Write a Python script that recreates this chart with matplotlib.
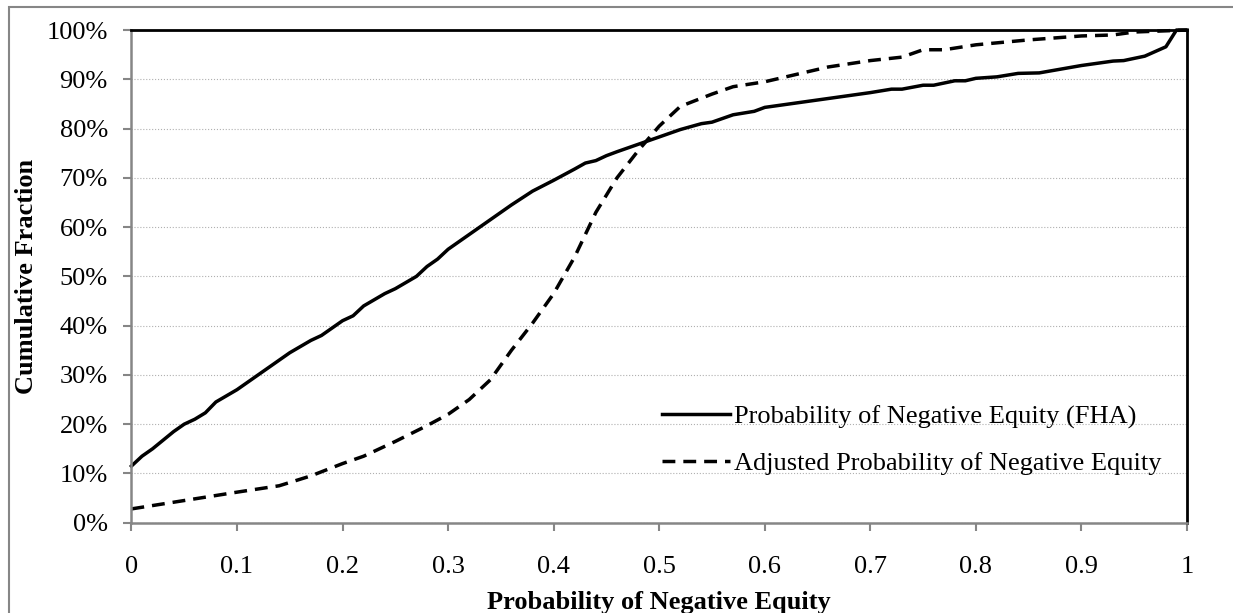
import matplotlib
matplotlib.use('Agg')
import matplotlib.pyplot as plt
from matplotlib.ticker import PercentFormatter
from matplotlib.patches import Rectangle

plt.rcParams['font.family'] = ['Liberation Serif', 'DejaVu Serif']

# cumulative fraction vs probability of negative equity
fha_x = [0, 0.01, 0.02, 0.04, 0.05, 0.06, 0.07, 0.08, 0.10, 0.12, 0.15, 0.17,
         0.18, 0.20, 0.21, 0.22, 0.24, 0.25, 0.27, 0.28, 0.29, 0.30, 0.32, 0.34,
         0.36, 0.38, 0.40, 0.42, 0.43, 0.44, 0.45, 0.46, 0.48, 0.50, 0.52, 0.54,
         0.55, 0.57, 0.59, 0.60, 0.65, 0.70, 0.72, 0.73, 0.75, 0.76, 0.78, 0.79,
         0.80, 0.82, 0.84, 0.86, 0.90, 0.93, 0.94, 0.96, 0.98, 0.99, 1.0]
fha_y = [0.115, 0.135, 0.150, 0.185, 0.200, 0.210, 0.223, 0.245, 0.270, 0.300,
         0.345, 0.370, 0.380, 0.410, 0.420, 0.440, 0.465, 0.475, 0.500, 0.520,
         0.535, 0.555, 0.585, 0.615, 0.645, 0.673, 0.695, 0.718, 0.730, 0.735,
         0.745, 0.753, 0.768, 0.783, 0.798, 0.810, 0.813, 0.828, 0.835, 0.843,
         0.858, 0.873, 0.880, 0.880, 0.888, 0.888, 0.897, 0.897, 0.902, 0.905,
         0.912, 0.913, 0.928, 0.937, 0.938, 0.947, 0.966, 1.0, 1.0]

adj_x = [0, 0.05, 0.10, 0.14, 0.17, 0.20, 0.22, 0.25, 0.28, 0.30, 0.32, 0.34,
         0.36, 0.38, 0.40, 0.42, 0.44, 0.46, 0.48, 0.50, 0.52, 0.55, 0.57, 0.60,
         0.63, 0.66, 0.70, 0.73, 0.75, 0.77, 0.80, 0.85, 0.90, 0.93, 0.95, 1.0]
adj_y = [0.028, 0.045, 0.062, 0.075, 0.095, 0.120, 0.135, 0.165, 0.197, 0.220,
         0.250, 0.290, 0.350, 0.405, 0.465, 0.540, 0.630, 0.700, 0.755, 0.805,
         0.845, 0.870, 0.885, 0.895, 0.910, 0.925, 0.938, 0.945, 0.960, 0.960,
         0.970, 0.980, 0.988, 0.990, 0.996, 1.0]

labels = ['Probability of Negative Equity (FHA)',
          'Adjusted Probability of Negative Equity']
xticks = [0, 0.1, 0.2, 0.3, 0.4, 0.5, 0.6, 0.7, 0.8, 0.9, 1]

fs = 19

fig = plt.figure(figsize=(12.33, 6.13), dpi=100)
ax = fig.add_axes([0.1066, 0.1473, 0.8561, 0.8037])

ax.plot(fha_x, fha_y, color='black', lw=2.5, label=labels[0], clip_on=False)
ax.plot(adj_x, adj_y, color='black', lw=2.5, ls=(0, (3.7, 2.3)), label=labels[1],
        clip_on=False)

ax.set_xlim(0, 1)
ax.set_ylim(0, 1)
ax.set_xticks(xticks)
ax.set_xticklabels(['0' if t == 0 else ('1' if t == 1 else f'{t:g}') for t in xticks])
ax.set_yticks([i / 10 for i in range(11)])
ax.yaxis.set_major_formatter(PercentFormatter(1.0, decimals=0))

ax.grid(axis='y', color='#b0b0b0', ls=':', lw=0.8)
ax.set_axisbelow(True)

for s in ['left', 'bottom']:
    ax.spines[s].set_color('#868686')
    ax.spines[s].set_linewidth(1.8)
for s in ['top', 'right']:
    ax.spines[s].set_color('black')
    ax.spines[s].set_linewidth(2.0)

ax.tick_params(axis='both', colors='#868686', length=6, width=1.5,
               labelcolor='black', labelsize=fs)
ax.tick_params(axis='x', pad=18)
ax.tick_params(axis='y', pad=11)

ax.set_xlabel('Probability of Negative Equity', fontsize=fs, fontweight='bold',
              labelpad=9)
ax.set_ylabel('Cumulative Fraction', fontsize=fs, fontweight='bold', labelpad=6)

ax.legend(loc='center right', bbox_to_anchor=(0.976, 0.168), frameon=False,
          fontsize=fs, handlelength=2.6, handletextpad=0.15, labelspacing=0.85,
          borderpad=0, borderaxespad=0)

# outer chart border
fig.patches.append(Rectangle((9 / 1233, -0.05), 1.1, 1.05 - 7 / 613,
                             transform=fig.transFigure, fill=False,
                             edgecolor='#868686', lw=1.5))

fig.savefig('out.png', dpi=100)
